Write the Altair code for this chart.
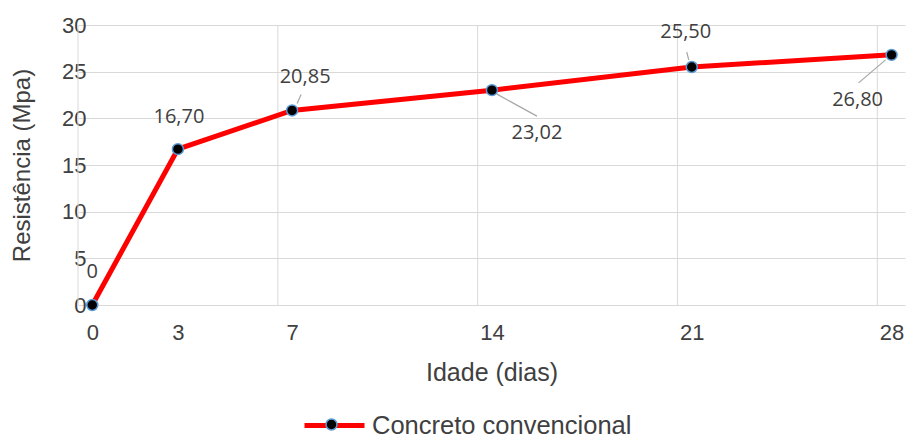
import altair as alt
import pandas as pd

# Compressive strength of conventional concrete by age
idade = [0, 3, 7, 14, 21, 28]
resistencia = [0.0, 16.70, 20.85, 23.02, 25.50, 26.80]
rotulos = ["0", "16,70", "20,85", "23,02", "25,50", "26,80"]
serie = "Concreto convencional"

# vertical grid lines sit half a day before each major age
grade_x = [-0.5, 6.5, 13.5, 20.5, 27.5]

df = pd.DataFrame({
    "idade": idade,
    "resistencia": resistencia,
    "rotulo": rotulos,
    "serie": [serie] * len(idade),
    "marcador": [" "] * len(idade),
})
grade = pd.DataFrame({"g": grade_x})

AXIS_FONT = "Liberation Sans"
LABEL_FONT = "Open Sans"
TXT = "#404040"
GRID = "#d9d9d9"

x_scale = alt.Scale(domain=[-0.5, 28.47], nice=False, zero=False)
y_scale = alt.Scale(domain=[0, 30], nice=False)

x_enc = alt.X(
    "idade:Q",
    scale=x_scale,
    axis=alt.Axis(
        values=idade, grid=False, domain=False, ticks=False,
        labelFontSize=22, labelFont=AXIS_FONT, labelColor=TXT, labelPadding=17,
        title="Idade (dias)", titleFont=AXIS_FONT, titleFontSize=25,
        titleFontWeight="normal", titleColor=TXT,
        titleX=413.5, titleY=67, titleBaseline="middle",
    ),
)
y_enc = alt.Y(
    "resistencia:Q",
    scale=y_scale,
    axis=alt.Axis(
        values=[0, 5, 10, 15, 20, 25, 30], grid=True, gridColor=GRID,
        domain=False, ticks=False,
        labelFontSize=22, labelFont=AXIS_FONT, labelColor=TXT, labelPadding=-8,
        title="Resistência (Mpa)", titleFont=AXIS_FONT, titleFontSize=24,
        titleFontWeight="normal", titleColor=TXT,
        titleX=-56, titleY=140, titleAngle=-90, titleBaseline="middle",
        titleAlign="center",
    ),
)

base = alt.Chart(df)

linhas_grade = alt.Chart(grade).mark_rule(color=GRID, strokeWidth=1).encode(
    x=alt.X("g:Q", scale=x_scale)
)

linha = base.mark_line(strokeWidth=5).encode(
    x=x_enc,
    y=y_enc,
    color=alt.Color(
        "serie:N",
        scale=alt.Scale(range=["#ff0000"]),
        legend=alt.Legend(
            orient="none", legendX=224, legendY=368, padding=0,
            title=None, symbolType="stroke", symbolSize=3600,
            symbolStrokeWidth=5, labelFont=AXIS_FONT, labelFontSize=25.5,
            labelColor=TXT, labelOffset=5, labelLimit=400,
        ),
    ),
)

pontos = base.mark_circle(size=120, opacity=1, stroke="#5b9bd5", strokeWidth=1.5).encode(
    x=alt.X("idade:Q", scale=x_scale),
    y=alt.Y("resistencia:Q", scale=y_scale),
    fill=alt.Fill(
        "marcador:N",
        scale=alt.Scale(range=["#000000"]),
        legend=alt.Legend(
            orient="none", legendX=247, legendY=393, padding=0, title=None,
            symbolType="circle", symbolSize=120, symbolStrokeColor="#5b9bd5",
            symbolStrokeWidth=1.5, symbolOpacity=1, labelFontSize=1,
            labelExpr="''",
        ),
    ),
)

# per-point label offsets (pixels) and leader lines
ajustes = {
    0: dict(dx=0, dy=-33),
    3: dict(dx=1, dy=-32),
    7: dict(dx=13, dy=-33),
    14: dict(dx=45, dy=43),
    21: dict(dx=-6, dy=-35),
    28: dict(dx=-34, dy=45),
}
guias = {
    7: ((5, -7), (9, -16)),
    14: ((5, 4), (45, 26)),
    21: ((-3, -7), (-5, -15)),
    28: ((-6, 5), (-33, 28)),
}

camadas = [linhas_grade, linha]
for dia, (ini, fim) in guias.items():
    camadas.append(
        base.transform_filter(alt.datum.idade == dia)
        .mark_rule(color="#a6a6a6", strokeWidth=1.2,
                   xOffset=ini[0], yOffset=ini[1],
                   x2Offset=fim[0], y2Offset=fim[1])
        .encode(
            x=alt.X("idade:Q", scale=x_scale),
            y=alt.Y("resistencia:Q", scale=y_scale),
            x2="idade:Q",
            y2="resistencia:Q",
        )
    )
camadas.append(pontos)
for dia, off in ajustes.items():
    camadas.append(
        base.transform_filter(alt.datum.idade == dia)
        .mark_text(font=LABEL_FONT, fontSize=20, color=TXT,
                   align="center", baseline="middle", **off)
        .encode(
            x=alt.X("idade:Q", scale=x_scale),
            y=alt.Y("resistencia:Q", scale=y_scale),
            text="rotulo:N",
        )
    )

chart = (
    alt.layer(*camadas)
    .resolve_scale(color="independent", fill="independent")
    .properties(
        width=827, height=280,
        autosize=alt.AutoSizeParams(type="none"),
        padding={"left": 78, "top": 25, "right": 2, "bottom": 132},
        background="white",
    )
    .configure_view(stroke=None)
)

chart.save("out.html", embed_options={"renderer": "svg", "actions": False})
